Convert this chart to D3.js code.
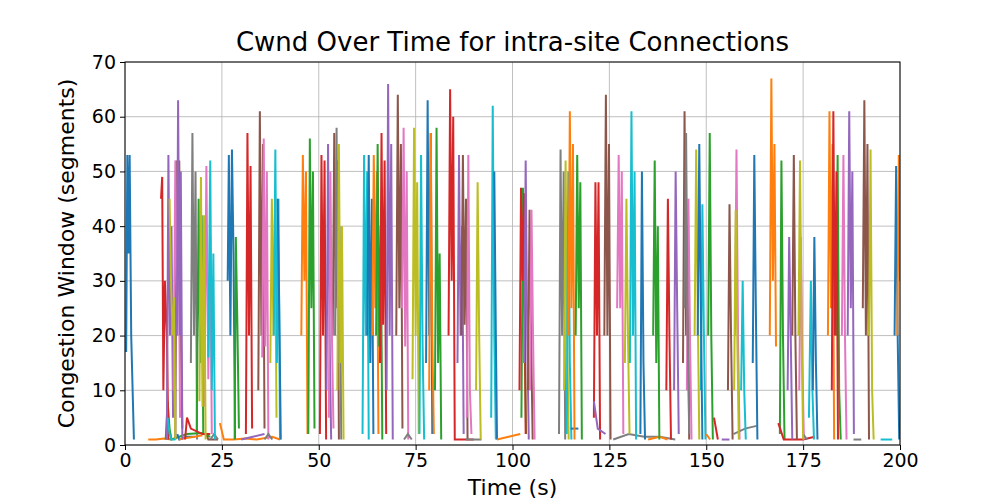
<!DOCTYPE html><html><head><meta charset="utf-8"><script src="https://cdn.jsdelivr.net/npm/d3@7"></script>
<style>body{margin:0;background:#fff}text{font-family:"DejaVu Sans",sans-serif}</style></head><body><svg id="c" width="1000" height="500"></svg>
<script>
const xTicks=[0,25,50,75,100,125,150,175,200];
const yTicks=[0,10,20,30,40,50,60,70];
const palette=["#1f77b4","#ff7f0e","#2ca02c","#d62728","#9467bd","#8c564b","#e377c2","#7f7f7f","#bcbd22","#17becf"];
const traces=[
[[0.3,17],[0.6,53],[0.9,35],[1.2,53],[1.6,20],[2.3,1]],
[[6,1],[8,1],[10,1.2],[12,1]],
[[10.5,1],[11,8],[11.5,3],[12,1],[14,1.5],[16,2],[20,2.2],[22,1.5]],
[[9.3,45],[9.6,49],[9.9,10],[10.3,30],[10.8,20],[11.2,1]],
[[10.8,1],[11.2,53],[11.6,20],[12,40],[12.4,5]],
[[13,1],[13.3,52],[13.6,30],[14,52],[14.4,20],[14.8,3]],
[[12.5,10],[13,52],[13.4,25],[13.8,48],[14.2,5]],
[[17,15],[17.4,57],[17.8,20],[18.2,50],[18.6,1]],
[[11.5,45],[11.9,29],[12.3,20],[12.7,27],[13,1]],
[[11,5],[11.5,2],[12,1],[13,1]],
[[13.5,2],[14,1],[16,1.5],[18,1.5]],
[[14,1],[15,1.2],[18,1.5],[20,1.8]],
[[18.5,2],[19,45],[19.4,15],[19.8,42],[20.2,2]],
[[15.5,1],[16,5],[17,3],[20,2],[22,2]],
[[13.4,20],[13.7,63],[14.1,20],[14.4,50],[14.8,1]],
[[21,2],[21.5,1],[23,1],[24,1]],
[[20.5,7],[21,51],[21.5,12],[22,38],[22.4,2]],
[[22,1],[23,2],[24,1]],
[[19.2,8],[19.6,49],[20,7],[20.4,42],[20.8,1]],
[[21.5,16],[22,52],[22.4,10],[22.8,35],[23.2,1]],
[[26.5,30],[26.8,53],[27.2,20],[27.6,54],[28,35],[28.4,1]],
[[24.5,4],[25.5,1],[28,1],[31,1.2],[34,1],[38,1.5],[40,1]],
[[28.3,1],[28.6,38],[29,22],[29.4,3]],
[[31.2,2],[31.6,57],[32,20],[32.4,51],[32.8,3]],
[[30,1],[33,1.5],[36,2]],
[[34.4,10],[34.8,61],[35.2,20],[35.6,55],[36,3]],
[[35.4,16],[35.8,56],[36.2,18],[36.6,50],[37,1]],
[[36,1],[37,2],[38,1]],
[[37.5,15],[37.9,45],[38.3,20],[38.7,43],[39.1,5]],
[[38.4,20],[38.8,54],[39.2,15],[39.6,45],[40,1]],
[[39.4,45],[39.8,25],[40.2,1]],
[[45.5,20],[45.9,53],[46.3,30],[46.7,50],[47.1,2]],
[[47.3,2],[47.7,56],[48.1,25],[48.5,50],[48.9,3]],
[[50.3,2],[50.7,53],[51.1,20],[51.5,52],[51.9,1]],
[[52,10],[52.4,55],[52.8,20],[53.2,1]],
[[53.6,20],[54,57],[54.4,25],[54.8,52],[55.2,1]],
[[52.6,5],[53,50],[53.4,20],[53.8,3]],
[[54.2,20],[54.6,58],[55,15],[55.4,40],[55.8,1]],
[[54.8,10],[55.2,55],[55.6,15],[56,40],[56.4,1]],
[[61.3,2],[61.7,53],[62.1,20],[62.5,50],[62.9,1]],
[[62.5,20],[62.9,53],[63.3,15],[63.7,45],[64.1,2]],
[[63.8,20],[64.2,53],[64.6,25],[65,50],[65.4,2]],
[[64.8,20],[65.2,55],[65.6,18],[66,40],[66.4,1]],
[[65.8,15],[66.2,57],[66.6,22],[67,52],[67.4,2]],
[[67.5,10],[67.9,66],[68.3,20],[68.7,55],[69.1,1]],
[[70,20],[70.4,64],[70.8,25],[71.2,55],[71.6,3]],
[[71.5,25],[71.9,58],[72.3,18],[72.7,50],[73.1,1]],
[[72,1],[73,2],[74,1]],
[[74.2,12],[74.6,58],[75,20],[75.4,48],[75.8,2]],
[[76,2],[76.4,53],[76.8,18],[77.2,1]],
[[77.7,15],[78.1,63],[78.5,20],[78.9,57],[79.3,2]],
[[78.5,10],[78.9,57],[79.3,20],[79.7,2]],
[[80,10],[80.4,58],[80.8,15],[81.2,35],[81.6,1]],
[[83.5,20],[83.9,65],[84.3,30],[84.7,60],[85.1,1],[88,1],[90,1]],
[[85.8,15],[86.2,53],[86.6,20],[87,40],[87.4,2]],
[[86.8,20],[87.2,53],[87.6,22],[88,45],[88.4,1]],
[[88.2,5],[88.6,53],[89,10],[89.4,2]],
[[88,1],[90,1],[92,1]],
[[90.6,10],[91,48],[91.4,20],[91.8,1]],
[[94.5,5],[94.9,62],[95.3,20],[95.7,1]],
[[95.3,50],[95.7,20],[96,1]],
[[96,1],[99,1.5],[102,2]],
[[102.3,5],[102.7,47],[103.1,20],[103.5,2]],
[[101.8,10],[102.2,47],[102.6,30],[103,46],[103.4,2]],
[[103,15],[103.4,52],[103.8,20],[104.2,1]],
[[104,10],[104.4,43],[104.8,20],[105.2,1]],
[[104.5,10],[104.9,43],[105.3,20],[105.7,1]],
[[112,2],[112.4,54],[112.8,20],[113.2,50],[113.6,1]],
[[113.3,10],[113.7,52],[114.1,20],[114.5,1]],
[[114,2],[114.4,50],[114.8,15],[115.2,1]],
[[115,3],[117,3]],
[[114.4,20],[114.8,61],[115.2,25],[115.6,55],[116,1]],
[[116.3,20],[116.7,53],[117.1,25],[117.5,48],[117.9,1]],
[[121,5],[121.4,48],[121.8,20],[122.2,48],[122.6,1]],
[[121,8],[122,3],[124,2]],
[[123.7,20],[124.1,64],[124.5,20],[124.9,55],[125.3,1]],
[[127,25],[127.4,53],[127.8,25],[128.2,50],[128.6,2]],
[[126,1],[130,2],[134,1.5],[138,1.5],[142,1]],
[[129,15],[129.4,45],[129.8,20],[130.2,2]],
[[130.3,15],[130.7,61],[131.1,20],[131.5,50],[131.9,1]],
[[133,2],[133.4,50],[133.8,15],[134.2,1]],
[[135,1],[138,1.5],[140,1]],
[[136.3,20],[136.7,52],[137.1,15],[137.5,40],[137.9,1]],
[[139.7,10],[140.1,45],[140.5,20],[140.9,1]],
[[141.7,10],[142.1,50],[142.5,25],[142.9,2]],
[[144,15],[144.4,61],[144.8,20],[145.2,40],[145.6,1]],
[[145,10],[145.4,45],[145.8,20],[146.2,1]],
[[144.4,25],[144.8,57],[145.2,20],[145.6,2]],
[[147,20],[147.4,54],[147.8,25],[148.2,1]],
[[148.6,10],[149,44],[149.4,20],[149.8,1]],
[[147.8,20],[148.2,55],[148.6,25],[149,1]],
[[150,2],[151,1]],
[[150.5,20],[150.9,57],[151.3,20],[151.7,1]],
[[152,5],[153,1]],
[[154,1],[156,1]],
[[155.6,10],[156,44],[156.4,20],[156.8,1]],
[[157.4,20],[157.8,54],[158.2,20],[158.6,1]],
[[157,2],[160,3],[163,3.5]],
[[157.2,10],[157.6,43],[158,20],[158.4,1]],
[[159,10],[159.4,30],[159.8,10],[160.2,1]],
[[162,15],[162.4,53],[162.8,25],[163.2,1]],
[[166.4,20],[166.8,67],[167.2,30],[167.6,55],[168,18]],
[[169,2],[169.4,52],[169.8,20],[170.2,1]],
[[168.6,4],[170,1],[172,1],[175,1],[178,1.5]],
[[171,10],[171.4,38],[171.8,20],[172.2,1]],
[[172.2,20],[172.6,53],[173,20],[173.4,1]],
[[174,10],[174.4,38],[174.8,15],[175.2,1]],
[[175,2],[176,1]],
[[173.8,20],[174.2,52],[174.6,20],[175,1]],
[[176.5,5],[177,30],[177.4,10],[177.8,1]],
[[177.5,10],[177.9,38],[178.3,15],[178.7,1]],
[[181.4,20],[181.8,61],[182.2,25],[182.6,55],[183,1]],
[[183.5,20],[183.9,53],[184.3,10],[184.7,1]],
[[182.4,10],[182.8,61],[183.2,20],[183.6,50],[184,1]],
[[186.5,20],[186.9,61],[187.3,25],[187.7,50],[188.1,2]],
[[190.4,25],[190.8,63],[191.2,20],[191.6,55],[192,1]],
[[185,20],[185.4,53],[185.8,20],[186.2,1]],
[[188,1],[190,1]],
[[192,20],[192.4,54],[192.8,10],[193.2,1]],
[[195,1],[198,1]],
[[198.6,20],[199,51],[199.4,20],[199.8,1]],
[[199.3,20],[199.7,53],[200,30]]
];
const svg=d3.select("#c");
const L=125,R=900,T=62,B=445;
const x=d3.scaleLinear().domain([0,200]).range([L,R]);
const y=d3.scaleLinear().domain([0,70]).range([B,T]);
svg.append("g").selectAll("line").data(xTicks).join("line").attr("x1",d=>x(d)).attr("x2",d=>x(d)).attr("y1",T).attr("y2",B).attr("stroke","#b0b0b0").attr("stroke-width",0.8);
svg.append("g").selectAll("line").data(yTicks).join("line").attr("y1",d=>y(d)).attr("y2",d=>y(d)).attr("x1",L).attr("x2",R).attr("stroke","#b0b0b0").attr("stroke-width",0.8);
svg.append("clipPath").attr("id","cp").append("rect").attr("x",L).attr("y",T).attr("width",R-L).attr("height",B-T);
const line=d3.line().x(d=>x(d[0])).y(d=>y(d[1]));
svg.append("g").attr("clip-path","url(#cp)").selectAll("path").data(traces).join("path").attr("d",line).attr("fill","none").attr("stroke",(d,i)=>palette[i%10]).attr("stroke-width",2);
svg.append("rect").attr("x",L).attr("y",T).attr("width",R-L).attr("height",B-T).attr("fill","none").attr("stroke","#000").attr("stroke-width",1);
const xa=svg.append("g").attr("transform",`translate(0,${B})`).call(d3.axisBottom(x).tickValues(xTicks).tickSize(5).tickPadding(4));
const ya=svg.append("g").attr("transform",`translate(${L},0)`).call(d3.axisLeft(y).tickValues(yTicks).tickSize(5).tickPadding(4));
[xa,ya].forEach(a=>{a.select(".domain").remove();a.selectAll("text").attr("font-size",19).attr("font-family","DejaVu Sans").attr("fill","#000");a.selectAll("line").attr("stroke","#000");});
svg.append("text").attr("x",(L+R)/2).attr("y",51).attr("text-anchor","middle").attr("font-size",26).text("Cwnd Over Time for intra-site Connections");
svg.append("text").attr("x",(L+R)/2).attr("y",495).attr("text-anchor","middle").attr("font-size",22).text("Time (s)");
svg.append("text").attr("transform",`translate(74,${(T+B)/2}) rotate(-90)`).attr("text-anchor","middle").attr("font-size",22).text("Congestion Window (segments)");
</script></body></html>
